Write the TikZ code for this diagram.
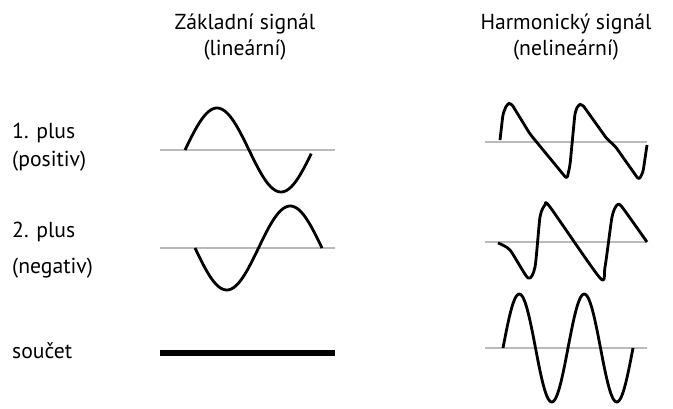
\documentclass[tikz,border=0pt]{standalone}
\usepackage{fontspec}
\setmainfont{PT Sans}
\usepackage{tikz}
\usetikzlibrary{positioning}

\begin{document}
\begin{tikzpicture}[
  x=0.03cm, y=-0.03cm,
  font=\fontsize{18.5}{22}\selectfont,
  head/.style={anchor=base, inner sep=0pt},
  label/.style={anchor=base west, inner sep=0pt},
  axis/.style={draw=black!27, line width=2.5pt},
  wave/.style={draw=black, line width=2.4pt, line join=round},
  total/.style={draw=black, line width=5pt},
]
  \useasboundingbox (0,0) rectangle (673,408);

  % Column heads
  \node[head] (hlin)  at (245,29) {Základní signál};
  \node[head] (hlinb) at (245,55) {(lineární)};
  \node[head] (hnon)  at (566,29) {Harmonický signál};
  \node[head] (hnonb) at (566,55) {(nelineární)};

  % Row labels
  \node[label] (pos)  at (12,138) {1. plus};
  \node[label] (posb) at (12,166) {(positiv)};
  \node[label] (neg)  at (12,237) {2. plus};
  \node[label] (negb) at (12,273) {(negativ)};
  \node[label] (sum)  at (12,358) {součet};

  % Zero lines (left / right column)
  \coordinate (l1a) at (160,150); \coordinate (l1b) at (335,150);
  \coordinate (l2a) at (160,248); \coordinate (l2b) at (335,248);
  \coordinate (r1a) at (485,142); \coordinate (r1b) at (647,142);
  \coordinate (r2a) at (485,242); \coordinate (r2b) at (647,242);
  \coordinate (r3a) at (485,348); \coordinate (r3b) at (647,348);
  \foreach \a/\b in {l1a/l1b, l2a/l2b, r1a/r1b, r2a/r2b, r3a/r3b}
    \draw[axis] (\a) -- (\b);

  % Linear signals
  \draw[wave] plot[domain=0:355, samples=70] ({185+\x/360*128},{150-42*sin(\x)});
  \draw[wave] plot[domain=0:360, samples=70] ({195+\x/360*127},{248+42*sin(\x)});
  \coordinate (s1) at (160,353); \coordinate (s2) at (335,353);
  \draw[total] (s1) -- (s2);

  % Harmonic signals
  \draw[wave, rounded corners=2.5pt] (500,140) -- (503,114) -- (507,104)
    -- (511,103) -- (530,134) -- (567,179) -- (570,165) -- (575,113)
    -- (578,105) -- (582,104) -- (607,139) -- (615,146) -- (639,180)
    -- (643,172) -- (647,145);
  \draw[wave] plot[smooth, tension=0.4] coordinates {
    (498,243) (510,250) (528,278) (535,267) (540,217) (545,205)
    (550,207) (600,278) (605,267) (612,217) (617,205) (622,207)
    (647,242)};
  \draw[wave] plot[domain=0:720, samples=120] ({503+\x/360*65},{348-54*sin(\x)});
\end{tikzpicture}
\end{document}
